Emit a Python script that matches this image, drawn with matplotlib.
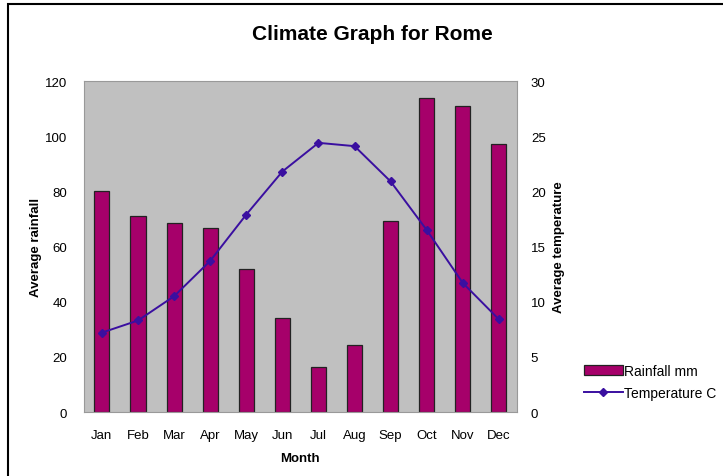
import matplotlib
matplotlib.use("Agg")
import matplotlib.pyplot as plt
import numpy as np
from matplotlib.patches import Rectangle

plt.rcParams['font.family'] = ['Liberation Sans', 'DejaVu Sans']

months = ['Jan', 'Feb', 'Mar', 'Apr', 'May', 'Jun', 'Jul', 'Aug', 'Sep', 'Oct', 'Nov', 'Dec']
rainfall = [80, 71, 68.5, 66.7, 51.8, 34, 16.3, 24.3, 69.2, 113.8, 110.9, 97.1]
temperature = [7.2, 8.3, 10.5, 13.7, 17.9, 21.8, 24.4, 24.1, 20.9, 16.5, 11.7, 8.4]

fig = plt.figure(figsize=(7.23, 4.77), dpi=100)
ax = fig.add_axes([0.116, 0.134, 0.599, 0.694])
ax.set_facecolor('#c0c0c0')

x = np.arange(len(months))
bars = ax.bar(x, rainfall, 0.42, color='#a6006a', edgecolor='#222222', linewidth=0.9,
              label='Rainfall mm', zorder=2)
ax.set_xlim(-0.5, 11.5)
ax.set_ylim(0, 120)
ax.set_yticks(range(0, 121, 20))
ax.set_xticks(x)
ax.set_xticklabels(months)
ax.tick_params(length=0, labelsize=9.5, pad=12)
ax.tick_params(axis='x', pad=12)
for s in ax.spines.values():
    s.set_color('#999999')
    s.set_linewidth(0.8)

ax2 = ax.twinx()
line, = ax2.plot(x, temperature, color='#3a0fa0', marker='D', markersize=4,
                 linewidth=1.4, label='Temperature C', zorder=3)
ax2.set_ylim(0, 30)
ax2.set_yticks(range(0, 31, 5))
ax2.tick_params(length=0, labelsize=9.5, pad=10)
for s in ax2.spines.values():
    s.set_visible(False)

ax.set_xlabel('Month', fontsize=9.5, fontweight='bold', labelpad=8)
ax.set_ylabel('Average rainfall', fontsize=9.5, fontweight='bold', labelpad=2)
ax2.set_ylabel('Average temperature', fontsize=9.5, fontweight='bold', labelpad=5)
fig.text(0.515, 0.927, 'Climate Graph for Rome', ha='center', va='center',
         fontsize=15, fontweight='bold')

fig.legend([bars, line], ['Rainfall mm', 'Temperature C'], loc='center left',
           bbox_to_anchor=(0.79, 0.197), frameon=False, fontsize=10,
           handlelength=2.8, handletextpad=0.1, labelspacing=0.6)

# outer frame
fig.patches.append(Rectangle((0.011, -0.05), 1.2, 1.04, transform=fig.transFigure,
                             fill=False, edgecolor='black', linewidth=1.5))

fig.savefig('out.png', dpi=100)
